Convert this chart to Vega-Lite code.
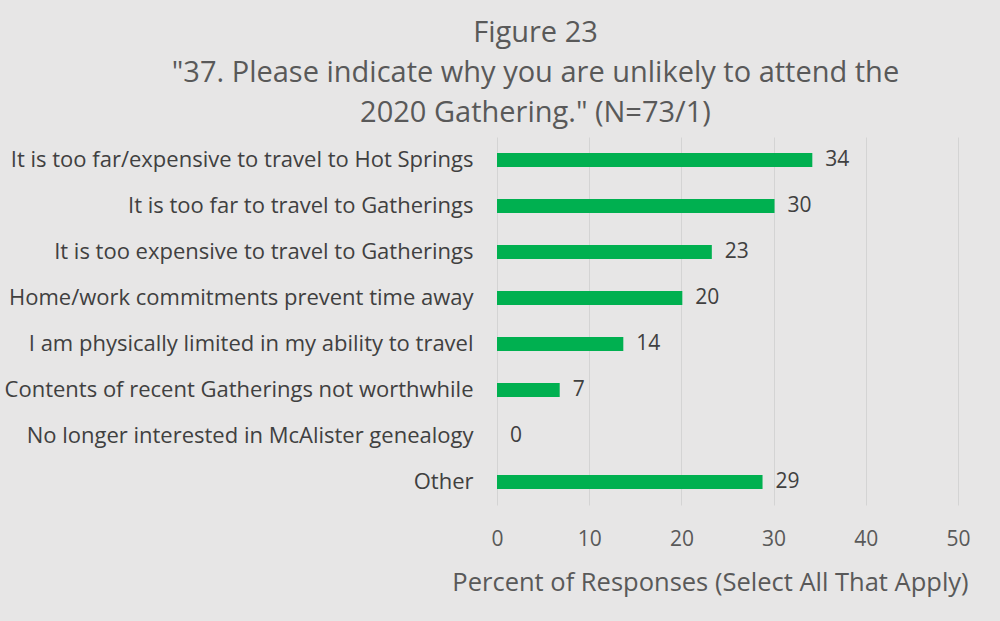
{
  "$schema": "https://vega.github.io/schema/vega-lite/v6.json",
  "autosize": {"type": "none"},
  "width": 461,
  "height": 368,
  "padding": {"left": 497, "top": 137, "right": 42, "bottom": 116},
  "background": "#e7e6e6",
  "config": {
    "view": {"stroke": null},
    "font": "Open Sans"
  },
  "title": {
    "text": ["Figure 23", "\"37. Please indicate why you are unlikely to attend the", "2020 Gathering.\" (N=73/1)"],
    "anchor": "middle",
    "frame": "group",
    "dx": -192,
    "offset": 9,
    "fontSize": 29,
    "fontWeight": "normal",
    "lineHeight": 40,
    "color": "#595959",
    "font": "Open Sans"
  },
  "data": {
    "values": [
      {"reason": "It is too far/expensive to travel to Hot Springs", "pct": 34.2, "label": "34"},
      {"reason": "It is too far to travel to Gatherings", "pct": 30.1, "label": "30"},
      {"reason": "It is too expensive to travel to Gatherings", "pct": 23.3, "label": "23"},
      {"reason": "Home/work commitments prevent time away", "pct": 20.1, "label": "20"},
      {"reason": "I am physically limited in my ability to travel", "pct": 13.7, "label": "14"},
      {"reason": "Contents of recent Gatherings not worthwhile", "pct": 6.8, "label": "7"},
      {"reason": "No longer interested in McAlister genealogy", "pct": 0, "label": "0"},
      {"reason": "Other", "pct": 28.8, "label": "29"}
    ]
  },
  "encoding": {
    "y": {
      "field": "reason",
      "type": "nominal",
      "sort": null,
      "scale": {"paddingInner": 0.7, "paddingOuter": 0.35},
      "axis": {
        "title": null,
        "ticks": false,
        "domain": false,
        "labelFontSize": 22,
        "labelColor": "#404040",
        "labelPadding": 24,
        "labelLimit": 600,
        "labelFont": "Open Sans"
      }
    },
    "x": {
      "field": "pct",
      "type": "quantitative",
      "scale": {"domain": [0, 50], "nice": false},
      "axis": {
        "values": [0, 10, 20, 30, 40, 50],
        "labelFlush": false,
        "title": "Percent of Responses (Select All That Apply)",
        "titleFontSize": 25.5,
        "titleFontWeight": "normal",
        "titleColor": "#595959",
        "titlePadding": 21,
        "titleX": 213,
        "titleAlign": "center",
        "titleFont": "Open Sans",
        "labelFontSize": 21,
        "labelColor": "#595959",
        "labelPadding": 23,
        "labelFont": "Open Sans",
        "domain": false,
        "ticks": false,
        "grid": true,
        "gridColor": "#d4d4d4",
        "gridWidth": 1
      }
    }
  },
  "layer": [
    {
      "mark": {"type": "bar", "color": "#00b050"}
    },
    {
      "mark": {"type": "text", "align": "left", "baseline": "middle", "dx": 13, "fontSize": 21, "color": "#404040", "font": "Open Sans"},
      "encoding": {"text": {"field": "label"}}
    }
  ]
}
